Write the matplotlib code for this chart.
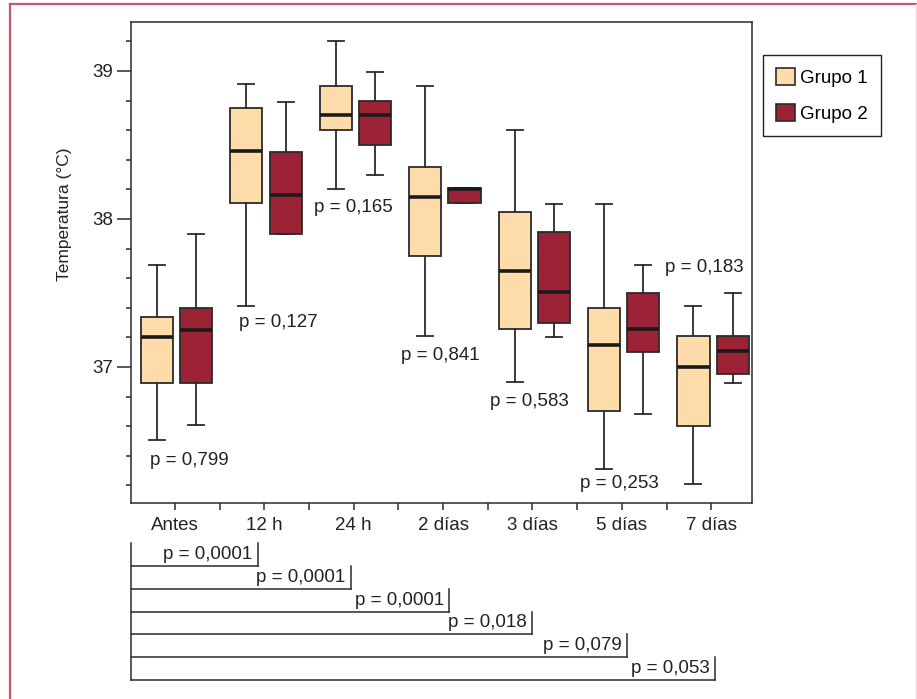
import matplotlib.pyplot as plt
from matplotlib.lines import Line2D
from matplotlib.patches import Patch
from matplotlib.ticker import MultipleLocator
import numpy as np

plt.rcParams['font.family'] = ['Liberation Sans', 'DejaVu Sans']

# --- Datos ---
categorias = ['Antes', '12 h', '24 h', '2 días', '3 días', '5 días', '7 días']

g1_whislo = [36.51, 37.41, 38.20, 37.21, 36.90, 36.31, 36.21]
g1_q1 = [36.89, 38.11, 38.60, 37.75, 37.26, 36.70, 36.60]
g1_med = [37.20, 38.46, 38.70, 38.15, 37.65, 37.15, 37.00]
g1_q3 = [37.34, 38.75, 38.90, 38.35, 38.05, 37.40, 37.21]
g1_whishi = [37.69, 38.91, 39.20, 38.90, 38.60, 38.10, 37.41]

g2_whislo = [36.61, 37.90, 38.30, 38.11, 37.20, 36.68, 36.89]
g2_q1 = [36.89, 37.90, 38.50, 38.11, 37.30, 37.10, 36.95]
g2_med = [37.25, 38.16, 38.70, 38.20, 37.51, 37.26, 37.11]
g2_q3 = [37.40, 38.45, 38.80, 38.21, 37.91, 37.50, 37.21]
g2_whishi = [37.90, 38.79, 38.99, 38.21, 38.10, 37.69, 37.50]

# p entre grupos en cada momento
p_grupos = ['0,799', '0,127', '0,165', '0,841', '0,583', '0,253', '0,183']
# p de Antes frente a cada momento posterior
p_antes = ['0,0001', '0,0001', '0,0001', '0,018', '0,079', '0,053']

# --- Layout ---
color_g1 = '#fddcaa'
color_g2 = '#9b2335'
linea = '#2b2b2b'
W, H = 917, 699
xlim = (-0.49, 6.455)
ylim = (36.081, 39.331)
offset_g1, offset_g2 = -0.20, 0.24
ancho = 0.36
# posicion (x, y) del texto de p entre grupos
pos_p_grupos = [(-0.28, 36.37), (0.716, 37.30), (1.555, 38.08), (2.53, 37.08),
                (3.53, 36.77), (4.53, 36.21), (5.48, 37.67)]
# extremo derecho de cada corchete inferior
fin_corchete = [0.93, 1.97, 3.07, 4.00, 5.06, 6.04]

fig = plt.figure(figsize=(W / 100, H / 100), dpi=100)
ax = fig.add_axes([131 / W, 196 / H, 621 / W, 481 / H])


def stats(whislo, q1, med, q3, whishi):
    return [dict(whislo=a, q1=b, med=c, q3=d, whishi=e, fliers=[])
            for a, b, c, d, e in zip(whislo, q1, med, q3, whishi)]


x = np.arange(len(categorias))
for st, off, col in [(stats(g1_whislo, g1_q1, g1_med, g1_q3, g1_whishi), offset_g1, color_g1),
                     (stats(g2_whislo, g2_q1, g2_med, g2_q3, g2_whishi), offset_g2, color_g2)]:
    ax.bxp(st, positions=x + off, widths=ancho, capwidths=ancho / 2,
           patch_artist=True, showfliers=False, manage_ticks=False,
           boxprops=dict(facecolor=col, edgecolor=linea, linewidth=1.3),
           medianprops=dict(color='#1a1a1a', linewidth=2.6),
           whiskerprops=dict(color=linea, linewidth=1.3),
           capprops=dict(color=linea, linewidth=1.3))

for txt, (px, py) in zip(p_grupos, pos_p_grupos):
    ax.text(px, py, 'p = ' + txt, fontsize=13.5, ha='left', va='center', color='#222')

ax.set_xlim(*xlim)
ax.set_ylim(*ylim)
ax.set_xticks(x)
ax.set_xticklabels(categorias, fontsize=13.5, color='#222')
ax.set_xticks(x[:-1] + 0.5, minor=True)
ax.set_yticks([37, 38, 39])
ax.set_yticklabels(['37', '38', '39'], fontsize=13.5, color='#222')
ax.yaxis.set_minor_locator(MultipleLocator(0.2))
ax.tick_params(axis='y', which='major', length=10, width=1.1, color=linea, pad=3)
ax.tick_params(axis='y', which='minor', length=3.5, width=1.1, color=linea)
ax.tick_params(axis='x', which='both', length=5, width=1.1, color=linea, pad=5)
for s in ax.spines.values():
    s.set_color(linea)
    s.set_linewidth(1.1)
ax.set_ylabel('Temperatura (°C)', fontsize=12.5, color='#222')
ax.yaxis.set_label_coords(-59 / 621, 0.6)

# --- Leyenda ---
handles = [Patch(facecolor=color_g1, edgecolor=linea, linewidth=1.2),
           Patch(facecolor=color_g2, edgecolor=linea, linewidth=1.2)]
leg = fig.legend(handles, ['Grupo 1', 'Grupo 2'], loc='upper left',
                 bbox_to_anchor=(763 / W, 1 - 55 / H), borderaxespad=0,
                 fancybox=False, edgecolor='#222', framealpha=1, fontsize=13.5,
                 handlelength=1.0, handleheight=1.0, handletextpad=0.3,
                 labelspacing=0.9, borderpad=0.7)
leg.get_frame().set_linewidth(1.0)

# --- Corchetes de comparacion con Antes ---
ax2 = fig.add_axes([131 / W, 19 / H, 621 / W, 137 / H])
ax2.set_xlim(*xlim)
ax2.set_ylim(len(p_antes), 0)
ax2.axis('off')
ax2.plot([xlim[0], xlim[0]], [0, len(p_antes)], color=linea, lw=1.1, clip_on=False)
for k, (txt, fin) in enumerate(zip(p_antes, fin_corchete)):
    ax2.plot([xlim[0], fin], [k + 1, k + 1], color=linea, lw=1.1, clip_on=False)
    ax2.plot([fin, fin], [k, k + 1], color=linea, lw=1.1, clip_on=False)
    ax2.annotate('p = ' + txt, (fin, k + 0.5), xytext=(-4, 0),
                 textcoords='offset points', ha='right', va='center',
                 fontsize=13.5, color='#222')

# --- Marco exterior ---
fig.add_artist(Line2D([10 / W, 1], [1 - 4 / H, 1 - 4 / H], color='#c8566f', lw=1.6))
fig.add_artist(Line2D([10 / W, 10 / W], [0, 1 - 4 / H], color='#c8566f', lw=1.6))
fig.add_artist(Line2D([916 / W, 916 / W], [0, 1 - 4 / H], color='#f4d4dc', lw=1.0))

fig.savefig('out.png', dpi=100)
